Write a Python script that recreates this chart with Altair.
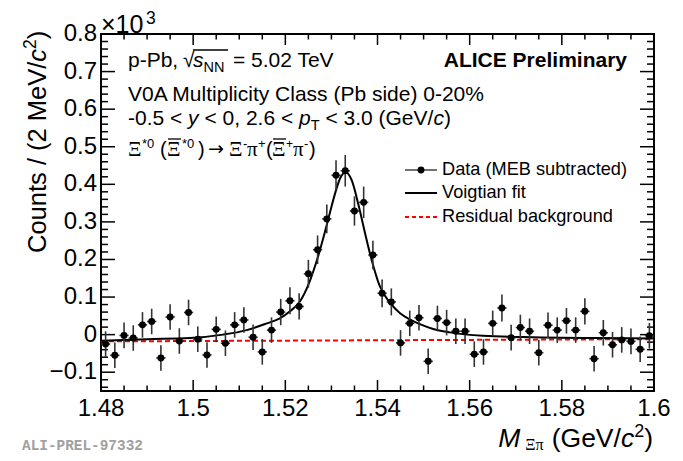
import altair as alt
import pandas as pd

# ---------------- data ----------------
mass = [1.481, 1.483, 1.485, 1.487, 1.489, 1.491, 1.493, 1.495, 1.497, 1.499,
        1.501, 1.503, 1.505, 1.507, 1.509, 1.511, 1.513, 1.515, 1.517, 1.519,
        1.521, 1.523, 1.525, 1.527, 1.529, 1.531, 1.533, 1.535, 1.537, 1.539,
        1.541, 1.543, 1.545, 1.547, 1.549, 1.551, 1.553, 1.555, 1.557, 1.559,
        1.561, 1.563, 1.565, 1.567, 1.569, 1.571, 1.573, 1.575, 1.577, 1.579,
        1.581, 1.583, 1.585, 1.587, 1.589, 1.591, 1.593, 1.595, 1.597, 1.599]
counts = [-0.025, -0.055, -0.002, -0.009, 0.026, 0.035, -0.062, 0.047, -0.017, 0.059,
          -0.012, -0.054, 0.014, -0.023, 0.026, 0.039, -0.007, -0.046, 0.012, 0.060,
          0.090, 0.075, 0.162, 0.226, 0.308, 0.424, 0.436, 0.329, 0.352, 0.212,
          0.110, 0.087, -0.022, 0.030, 0.045, -0.071, 0.043, 0.032, 0.009, 0.009,
          -0.052, -0.046, 0.030, 0.071, -0.008, 0.019, 0.009, -0.048, 0.025, 0.012,
          0.037, 0.012, 0.062, -0.064, 0.005, -0.027, -0.014, -0.018, -0.039, -0.003]
errors = [0.034, 0.034, 0.034, 0.034, 0.034, 0.034, 0.034, 0.034, 0.034, 0.034,
          0.034, 0.034, 0.034, 0.034, 0.034, 0.034, 0.034, 0.034, 0.034, 0.035,
          0.036, 0.035, 0.037, 0.038, 0.038, 0.040, 0.042, 0.039, 0.042, 0.038,
          0.037, 0.036, 0.034, 0.034, 0.034, 0.034, 0.034, 0.034, 0.034, 0.034,
          0.034, 0.034, 0.034, 0.036, 0.034, 0.034, 0.034, 0.034, 0.034, 0.034,
          0.034, 0.034, 0.035, 0.034, 0.034, 0.034, 0.034, 0.034, 0.034, 0.034]
half_bin = 0.001

fit_x = [1.480, 1.490, 1.4993, 1.5065, 1.5116, 1.5160, 1.5188, 1.5210, 1.5232, 1.5251,
         1.5271, 1.5291, 1.5308, 1.5319, 1.5331, 1.5344, 1.5358, 1.5373, 1.5387, 1.5405,
         1.5427, 1.5449, 1.5471, 1.5492, 1.5521, 1.5557, 1.5629, 1.5737, 1.5883, 1.6000]
fit_y = [-0.016, -0.012, -0.009, 0.000, 0.012, 0.030, 0.043, 0.062, 0.089, 0.136,
         0.208, 0.297, 0.376, 0.416, 0.432, 0.411, 0.349, 0.270, 0.200, 0.129,
         0.085, 0.057, 0.040, 0.028, 0.015, 0.006, -0.003, -0.007, -0.009, -0.010]

bkg_x = [1.48, 1.60]
bkg_y = [-0.018, -0.012]

x_major = [1.48, 1.50, 1.52, 1.54, 1.56, 1.58, 1.60]
x_minor = [1.485, 1.49, 1.495, 1.505, 1.51, 1.515, 1.525, 1.53, 1.535, 1.545, 1.55, 1.555,
           1.565, 1.57, 1.575, 1.585, 1.59, 1.595]
y_major = [-0.1, 0.0, 0.1, 0.2, 0.3, 0.4, 0.5, 0.6, 0.7, 0.8]
y_minor = [-0.14, -0.12, -0.08, -0.06, -0.04, -0.02, 0.02, 0.04, 0.06, 0.08,
           0.12, 0.14, 0.16, 0.18, 0.22, 0.24, 0.26, 0.28, 0.32, 0.34, 0.36, 0.38,
           0.42, 0.44, 0.46, 0.48, 0.52, 0.54, 0.56, 0.58, 0.62, 0.64, 0.66, 0.68,
           0.72, 0.74, 0.76, 0.78]

# ---------------- layout ----------------
W, H = 553, 357
OX, OY = 101, 34          # plot origin in page pixels
SANS = "Liberation Sans"
SERIF = "Liberation Serif"
ONE = alt.Data(values=[{"a": 1}])

xs = alt.Scale(domain=[1.48, 1.60], nice=False, zero=False)
ys = alt.Scale(domain=[-0.15, 0.80], nice=False, zero=False)

df = pd.DataFrame({"m": mass, "c": counts, "e": errors})
df["lo"] = df["c"] - df["e"]
df["hi"] = df["c"] + df["e"]
df["ml"] = df["m"] - half_bin
df["mh"] = df["m"] + half_bin

fit_df = pd.DataFrame({"m": fit_x, "c": fit_y})
bkg_df = pd.DataFrame({"m": bkg_x, "c": bkg_y})


def X(f):
    return alt.X(f, scale=xs, axis=None)


def Y(f):
    return alt.Y(f, scale=ys, axis=None)


points = alt.Chart(df).mark_point(filled=True, size=48, color="black", opacity=1).encode(
    x=X("m:Q"), y=Y("c:Q"))
vbar = alt.Chart(df).mark_rule(color="#333333", strokeWidth=1.6).encode(
    x=X("m:Q"), y=Y("lo:Q"), y2="hi:Q")
hbar = alt.Chart(df).mark_rule(color="#333333", strokeWidth=1.6).encode(
    x=X("ml:Q"), x2="mh:Q", y=Y("c:Q"))
fit = alt.Chart(fit_df).mark_line(color="black", strokeWidth=2, interpolate="monotone").encode(
    x=X("m:Q"), y=Y("c:Q"))
bkg = alt.Chart(bkg_df).mark_line(color="#ff0000", strokeWidth=2, strokeDash=[5, 3]).encode(
    x=X("m:Q"), y=Y("c:Q"))

# tick labels drawn through the scales
xlab = alt.Chart(pd.DataFrame({"v": x_major})).mark_text(
    font=SANS, fontSize=24, align="center", baseline="alphabetic", color="black").encode(
    x=X("v:Q"), y=alt.value(416 - OY), text=alt.Text("v:Q", format=".2~f"))
ylab = alt.Chart(pd.DataFrame({"v": y_major})).mark_text(
    font=SANS, fontSize=24, align="right", baseline="middle", color="black").encode(
    y=Y("v:Q"), x=alt.value(-4), text=alt.Text("v:Q", format=".1~f"))


def yticks(vals, ln):
    d = pd.DataFrame({"v": vals})
    left = alt.Chart(d).mark_rule(color="black", strokeWidth=1.5).encode(
        y=Y("v:Q"), x=alt.value(0), x2=alt.value(ln))
    right = alt.Chart(d).mark_rule(color="black", strokeWidth=1.5).encode(
        y=Y("v:Q"), x=alt.value(W), x2=alt.value(W - ln))
    return [left, right]


def xticks(vals, ln):
    d = pd.DataFrame({"v": vals})
    bot = alt.Chart(d).mark_rule(color="black", strokeWidth=1.5).encode(
        x=X("v:Q"), y=alt.value(H), y2=alt.value(H - ln))
    top = alt.Chart(d).mark_rule(color="black", strokeWidth=1.5).encode(
        x=X("v:Q"), y=alt.value(0), y2=alt.value(ln))
    return [bot, top]


def txt(s, x, y, size=21, font=SANS, style="normal", weight="normal",
        align="left", baseline="alphabetic", angle=0, color="black"):
    return alt.Chart(ONE).mark_text(
        text=s, font=font, fontSize=size, fontStyle=style, fontWeight=weight,
        align=align, baseline=baseline, angle=angle, color=color,
    ).encode(x=alt.value(x - OX), y=alt.value(y - OY))


def hline(x1, x2, y, color="black", width=1.5, dash=None):
    kw = dict(color=color, strokeWidth=width)
    if dash:
        kw["strokeDash"] = dash
    return alt.Chart(ONE).mark_rule(**kw).encode(
        x=alt.value(x1 - OX), x2=alt.value(x2 - OX), y=alt.value(y - OY))


AW = {' ': 278, '!': 278, '(': 333, ')': 333, '*': 389, '+': 584, ',': 278, '-': 333,
      '.': 278, '/': 278, '<': 584, '=': 584, '>': 584, '%': 889,
      'A': 667, 'B': 667, 'C': 722, 'D': 722, 'E': 667, 'G': 778, 'L': 556, 'M': 833,
      'N': 722, 'P': 667, 'T': 611, 'V': 667,
      'a': 556, 'b': 556, 'c': 500, 'd': 556, 'e': 556, 'i': 222, 'l': 222, 'n': 556,
      'o': 556, 'p': 556, 'r': 333, 's': 500, 't': 278, 'u': 556, 'y': 500, 'm': 833,
      'Ξ': 645, 'π': 549, '√': 549}
for ch in "0123456789":
    AW[ch] = 556


def wid(s, size):
    return sum(AW.get(ch, 556) for ch in s) * size / 1000.0


# style: size, fontStyle, font, baseline offset
STY = {
    "n": (21, "normal", SANS, 0),
    "i": (21, "italic", SANS, 0),
    "sub": (14.5, "normal", SANS, 5),
    "N": (25.5, "normal", SANS, 0),
    "I": (25.5, "italic", SANS, 0),
    "SUP": (17.5, "normal", SANS, -10),
    "XN": (26.5, "normal", SANS, 0),
    "XI": (26.5, "italic", SANS, 0),
    "XSUP": (18, "normal", SANS, -10),
    "SUBG": (16, "normal", SERIF, 3),
}


def chain(pieces, x0, y0, rot=False, gaps=None):
    """Lay text pieces one after another. For rot=True, x0 is the baseline x
    and y0 the starting y; text reads upwards."""
    out = []
    pos = y0 if rot else x0
    for j, (text, k) in enumerate(pieces):
        size, style, font, dy = STY[k]
        lead = len(text) - len(text.lstrip(" "))
        shown = text.strip(" ")
        off = wid(" " * lead, size)
        if rot:
            out.append(txt(shown, x0 + dy, pos - off, size=size, font=font,
                           style=style, angle=270))
            pos -= wid(text, size)
        else:
            out.append(txt(shown, pos + off, y0 + dy, size=size, font=font, style=style))
            pos += wid(text, size)
        if gaps and j in gaps:
            pos += gaps[j] * (-1 if rot else 1)
    return out


layers = []
layers += yticks(y_major, 14) + yticks(y_minor, 7) + xticks(x_major, 11) + xticks(x_minor, 5.5)
layers += [xlab, ylab, bkg, fit, vbar, hbar, points]

# ---- annotation text ----
layers += [txt("p-Pb,", 128, 67)]
layers += [txt("√", 183, 67)]
layers += [hline(193, 228, 50, width=1.3)]
layers += chain([("s", "i"), ("NN", "sub")], 193, 67)
layers += [txt("= 5.02 TeV", 233, 67)]
layers += [txt("V0A Multiplicity Class (Pb side) 0-20%", 128, 101)]
layers += chain([("-0.5 < ", "n"), ("y", "i"), (" < 0, 2.6 < ", "n"), ("p", "i"), ("T", "sub"),
                 (" < 3.0 (GeV/", "n"), ("c", "i"), (")", "n")], 128, 125)

# Xi decay line
L4 = 156
G = 21
S = 13
P = 20
layers += [
    txt("Ξ", 128, L4, size=G, font=SERIF),
    txt("*0", 142, L4 - 8, size=S),
    txt("(", 160, L4, size=P),
    txt("Ξ", 167, L4, size=G, font=SERIF),
    hline(168, 181, 139, width=1.3),
    txt("*0", 182, L4 - 8, size=S),
    txt(")", 198, L4, size=P),
    txt("→", 208, L4 - 1, size=19, font="DejaVu Sans"),
    txt("Ξ", 229, L4, size=G, font=SERIF),
    txt("-", 243, L4 - 8, size=S),
    txt("π", 247, L4, size=G, font=SERIF),
    txt("+", 258, L4 - 8, size=S),
    txt("(", 266, L4, size=P),
    txt("Ξ", 272, L4, size=G, font=SERIF),
    hline(273, 286, 139, width=1.3),
    txt("+", 286, L4 - 8, size=12),
    txt("π", 293, L4, size=G, font=SERIF),
    txt("-", 304, L4 - 8, size=S),
    txt(")", 309, L4, size=P),
]

layers += [txt("ALICE Preliminary", 627, 67, weight="bold", align="right")]

# legend
LEG = 18.2
layers += [
    hline(405, 437, 170, color="#444444", width=1.5),
    alt.Chart(ONE).mark_point(filled=True, size=48, color="black", opacity=1).encode(
        x=alt.value(421 - OX), y=alt.value(170 - OY)),
    txt("Data (MEB subtracted)", 442, 170, size=LEG, baseline="middle"),
    hline(405, 437, 193, color="black", width=2),
    txt("Voigtian fit", 442, 193, size=LEG, baseline="middle"),
    hline(405, 437, 217, color="#ff0000", width=2, dash=[4, 3]),
    txt("Residual background", 442, 217, size=LEG, baseline="middle"),
]

# x10^3 multiplier
layers += [txt("×10", 101, 33, size=25), txt("3", 146, 24, size=17.5)]

# y title (rotated, reading upwards)
layers += chain([("Counts / (2 MeV/", "N"), ("c", "I"), ("2", "SUP"), (")", "N")],
                46, 253, rot=True)

# x title (right aligned at 653)
xt_pieces = [("M", "XI"), ("Ξπ", "SUBG"), (" (GeV/", "XN"), ("c", "XI"), ("2", "XSUP"),
             (")", "XN")]
gap = 5
total = sum(wid(t, STY[k][0]) for t, k in xt_pieces) + gap
layers += chain(xt_pieces, 653 - total, 447, gaps={0: gap})

layers += [txt("ALI-PREL-97332", 22, 450, size=14.4, font="Liberation Mono",
               weight="bold", color="#a0a0a0")]

chart = alt.layer(*layers).properties(
    width=W, height=H,
    autosize=alt.AutoSizeParams(type="none"),
    padding={"left": 93, "top": 26, "right": 21, "bottom": 62},
    background="white",
).configure_view(stroke="black", strokeWidth=2)

chart.save("out.html", embed_options={"renderer": "svg", "actions": False})
